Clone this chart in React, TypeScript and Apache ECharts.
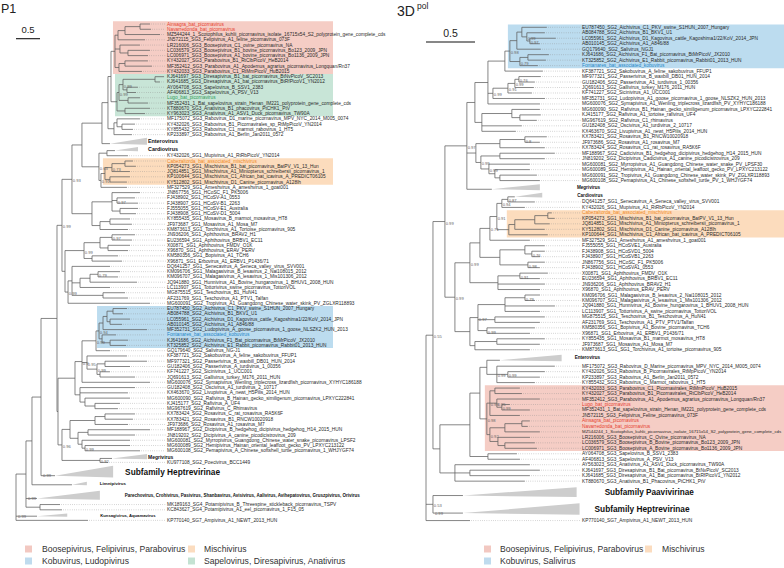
import React, { useEffect, useRef } from "react";
import * as echarts from "echarts";

/* ====================== DATA ====================== */
// P1 tree (Newick, branch lengths in substitutions/site, node labels = support)
const P1_PINK =
  "((((Ainsagra_bat_picornavirus:0.208,Navarredonda_bat_picornavirus:0.229):0.313,MZ544244_1_Scotophilus_kuhlii_picornavirus_isolate_16715x54_S2_polyprotein_gene_complete_cds:0.729):0.146,JN572115_SG3_Felipivirus_A1_feline_picornavirus_073F:0.563):0.063,(LR216006_SG3_Boosepivirus_C1_ovine_picornavirus_NA:0.417,(LC036579_SG3_Boosepivirus_B1_bovine_picornavirus_Bo123_2009_JPN:0.458,LC006971_SG3_Boosepivirus_A1_bovine_picornavirus_Bo1136_2009_JPN:0.417):0.167):0.104,((KY432027_SG3_Parabovirus_B1_RtClbPicoV_HeB2014:0.479,MF352412_SG3_Parabovirus_A1_Apodemus_agrarius_picornavirus_Longquan/Rn37:0.563):0.125,KY432033_SG3_Parabovirus_C1_RtMmPicoV_HuB2015:0.479):0.083):0.083";
const P1_GREEN =
  "((((KJ641697_SG3_Diresapivirus_B1_bat_picornavirus_BtNvPicoV_SC2013:0.188,KJ641685_SG3_Diresapivirus_A1_bat_picornavirus_BtRfPicoV1_YN2012:0.104):0.667,(AY064708_SG3_Sapelovirus_B_SSV1_2383:0.229,AF406813_SG3_Sapelovirus_A_PSV_V13:0.188):0.083)0.99:0.083,(Lugo_bat_picornavirus:0.25,MF352431_1_Bat_sapelovirus_strain_Henan_IM221_polyprotein_gene_complete_cds:0.417):0.188)0.99:0.042,(KT880670_SG3_Anativirus_B1_phacovirus_PtCHK1_PtV:0.521,KY963023_SG3_Anativirus_A1_ASV1_Duck_picornavirus_TW90A:0.417):0.167):0.125";
const P1_RABO =
  "((MF175072_SG3_Rabovirus_D1_marine_picornavirus_MPV_NYC_2014_M005_0074:0.479,(KY432026_SG3_Rabovirus_B1_Picornavirales_sp_RtMpPicoV_YN2014:0.271,KY855432_SG3_Rabovirus_C1_marmot_rabovirus_1_HT5:0.229):0.104):0.063,KP233897_SG3_Rabovirus_A1_Berlin_Jan2011_0572:0.375):0.125";
const P1_CARDIO = "(#Cardio:0.167,KY432026_SG1_Mupivirus_A1_RtRbPicoV_YN2014:0.438):0.167";
const P1_MISCHI =
  "((((Cabezaltorda_bat_associated_mischivirus:0.167,KP054273_SG1_Mischivirus_B1_bat_picornavirus_BatPV_V1_13_Hun:0.229):0.271,JQ814851_SG1_Mischivirus_A1_Miniopterus_schreibersii_picornavirus_1:0.375)0.73:0.146,(KP100644_SG1_Mischivirus_C1_African_bat_icavirus_A_PREDICT06105:0.417,KY512802_SG1_Mischivirus_D1_Canine_picornavirus_A128lh:0.354):0.104):0.083,MF327529_SG1_Ameshvirus_A_ameshvirus_1_goat001:0.542)0.91:0.042";
const P1_COSA =
  "((JN867756_SG1_HCoSC_F1_PK5006:0.583,(FJ438902_SG1_HCoSV-A1_0553:0.375,FJ438907_SG1_HCoSV-B1_2263:0.438)0.97:0.104,(FJ555055_SG1_HCoSV-E1_Australia:0.375,FJ438908_SG1_HCoSV-D1_5004:0.333):0.167):0.417,((KY855435_SG1_Mosavirus_B_marmot_mosavirus_HT8:0.417,JF973687_SG1_Mosavirus_A1_Mosa_M7:0.458):0.208,KM873613_SG1_Torchivirus_A1_Tortoise_picornavirus_905:0.583):0.167):0.417";
const P1_APHTHO =
  "(((JN936206_SG1_Aphthovirus_BRAV2_H1:0.479,EU236594_SG1_Aphthovirus_BRBV1_EC11:0.417)0.97:0.25,(X00871_SG1_Aphthovirus_FMDV_O1K:0.458,X96870_SG1_Aphthovirus_ERAV_PERV:0.417):0.167):0.333,(KM580356_SG1_Bopivirus_A1_TCH6:0.542,X96871_SG1_Erbovirus_A1_ERBV1_P1436/71:0.625):0.167)0.99:0.396";
const P1_SENECA =
  "((DQ641257_SG1_Senecavirus_A_Seneca_valley_virus_SVV001:0.792,(((KM096706_SG1_Malagasivirus_B_lesavirus_2_Nai108015_2012:0.458,KM096707_SG1_Malagasivirus_A_lesavirus_1_Mis101306_2012:0.417)0.79:0.167,JQ941880_SG1_Hunnivirus_A1_Bovine_hungarovirus_1_BHUV1_2008_HUN:0.979):0.208,LC113907_SG1_Tottorivirus_swine_picornavirus_TottoriVOL:0.625):0.167,(MG875515_SG1_Teschovirus_B1_HuN41:0.458,AF231769_SG1_Teschovirus_A1_PTV1_Talfan:0.521):0.646):0.083,MG600091_SG2_Tropivirus_A1_Guangdong_Chinese_water_skink_PV_ZGLXR118893:1.708)0.99:0.063";
const P1_KOBU =
  "((((EU787450_SG2_Aichivirus_C1_PKV_swine_S1HUN_2007_Hungary:0.292,AB084788_SG2_Aichivirus_B1_BKV1_U1:0.208):0.125,(LC055961_SG2_Aichivirus_D1_Kagovirus_cattle_Kagoshima1/22/KoV_2014_JPN:0.417,AB010145_SG2_Aichivirus_A1_A846/88:0.25):0.063):0.083,MF352731_SG2_Ludopivirus_A_goose_picornavirus_1_goose_NLSZK2_HUN_2013:0.917):0.083,(Fontanares_bat_associated_kobuvirus:0.292,(KJ641686_SG2_Aichivirus_F1_Bat_picornavirus_BtMrPicoV_JX2010:0.375,KT325852_SG2_Aichivirus_E1_Rabbit_picornavirus_Rabbit01_2013_HUN:0.333):0.167):0.063)0.94:0.063";
const P1_PASSERI =
  "(KF387721_SG2_Sakobuvirus_A_feline_sakobuvirus_FFUP1:0.833,((MF977321_SG2_Passerivirus_B_waxbill_DB01_HUN_2014:0.875,GU182406_SG2_Passerivirus_A_turdivirus_1_00356:0.521):0.167,(KF741227_SG2_Sicinivirus_1_UCC001:0.208,JQ691613_SG2_Gallivirus_turkey_M176_2011_HUN:0.729):0.063)0.99:0.208)0.95:0.104";
const P1_RAFI =
  "(GU182408_SG2_Oscivirus_A1_turdivirus_2_10717:1.146,KX463670_SG2_Livupivirus_A_newt_H5Pilis_2014_HUN:1.0,(MG600090_SG2_Rafivirus_B_Hainan_gecko_similigenum_picornavirus_LPXYC222841:0.938,(KJ415177_SG2_Rafivirus_A_UF4:0.521,MG967619_SG2_Rafivirus_C_Rhimavirus:0.479):0.208):0.104):0.104";
const P1_ROSA =
  "((((KX783424_SG2_Rosavirus_C_rat_rosavirus_RA5K6F:0.625,KX783421_SG2_Rosavirus_B1_RNCW10020918:0.583):0.208,JF973686_SG2_Rosavirus_A1_rosavirus_M7:0.688):0.521,((MF188967_SG2_Dicipivirus_B_hedgehog_dicipivirus_hedgehog_H14_2015_HUN:1.292,JN819202_SG2_Dicipivirus_A_canine_picodicistrovirus_209:0.979):0.208,(MG600081_SG2_Myrropivirus_Guangdong_Chinese_water_snake_picornavirus_LPSF2:1.0,(MG600089_SG2_Hemipivirus_Hainan_oriental_leaffoot_gecko_PV_LPXYC213122:0.938,MG600108_SG2_Pemapivirus_A_Chinese_softshell_turtle_picornavirus_1_WHJYGF74:1.146)0.99:0.063):0.083):0.167):0.167,(#Megri:0.25,KU977108_SG2_Poecivirus_BCC1449:0.167)0.92:0.792)0.96:0.083";

const P1_SG3 = `(((${P1_PINK},${P1_GREEN}):0.063,${P1_RABO}):0.125,#Entero:0.167):0.417`;
const P1_PB = `(${P1_SG3},(${P1_CARDIO},${P1_MISCHI})0.63:0.354):0.208`;
const P1_PA = `(${P1_PB},${P1_COSA})0.93:0.208`;
const P1_P = `(${P1_PA},(${P1_APHTHO},${P1_SENECA}):0.063)0.99:0.104`;
const P1_KUP = `(((${P1_KOBU},GQ179640_SG2_Salivirus_NG-J1:0.292)0.99:0.292,${P1_PASSERI},MG600076_SG2_Symapivirus_Wenling_triplecross_lizardfish_picornavirus_XYHYC186188:1.417)0.9:0.146,${P1_RAFI}):0.354`;
const P1_K = `(${P1_KUP},${P1_ROSA}):0.021`;
const P1_TREE = `(((((${P1_P},${P1_K}):0.333,#Heptre:0.292):0.188,#Limni:0.833):0.125,#Parecho:0.229,(MK189163_SG4_Potamipivirus_B_Threespine_stickleback_picornavirus_TSPV:0.417,KC843627_SG4_Potamipivirus_A1_eel_picornavirus_1_F15_05:0.458):0.292):0.208,#Kunsagi:0.438,KP770140_SG7_Ampivirus_A1_NEWT_2013_HUN:1.5);`;

// 3Dpol tree
const POL_KOBU =
  "(((EU787450_SG2_Aichivirus_C1_PKV_swine_S1HUN_2007_Hungary:0.255,(AB084788_SG2_Aichivirus_B1_BKV1_U1:0.184,(LC055961_SG2_Aichivirus_D1_Kagovirus_cattle_Kagoshima1/22/KoV_2014_JPN:0.265,AB010145_SG2_Aichivirus_A1_A846/88:0.102)0.97:0.031)0.99:0.051):0.051,GQ179640_SG2_Salivirus_NGJ1:0.245):0.071,((KJ641686_SG2_Aichivirus_F1_Bat_picornavirus_BtMrPicoV_JX2010:0.214,KT325852_SG2_Aichivirus_E1_Rabbit_picornavirus_Rabbit01_2013_HUN:0.184):0.082,Fontanares_bat_associated_kobuvirus:0.184)0.79:0.102)0.98:0.051";
const POL_PASSERI =
  "((((MF977321_SG2_Passerivirus_B_waxbill_DB01_HUN_2014:0.224,GU182406_SG2_Passerivirus_A1_turdivirus_1_00356:0.163)0.76:0.041,JQ691613_SG2_Gallivirus_turkey_M176_2011_HUN:0.194)0.99:0.071,KF741227_SG2_Sicinivirus_A1_UCC001:0.245)0.91:0.153,MF352731_SG2_Ludopivirus_A1_goose_picornavirus_1_goose_NLSZK2_HUN_2013:0.531)0.99:0.051";
const POL_RAFI =
  "((MG600090_SG2_Rafivirus_B1_Hainan_gecko_similigenum_picornavirus_LPXYC222841:0.286,(KJ415177_SG2_Rafivirus_A1_tortoise_rafivirus_UF4:0.214,MG967619_SG2_Rafivirus_C1_rhimavirus:0.173):0.082):0.306,GU182408_SG2_Oscivirus_A1_turdivirus_2_10717:0.408,KX463670_SG2_Livupivirus_A1_newt_H5Pilis_2014_HUN:0.347):0.071";
const POL_ROSA =
  "(((KX783421_SG2_Rosavirus_B1_RNCW10020918:0.224,JF973686_SG2_Rosavirus_A1_rosavirus_M7:0.153)0.8:0.255,KX783424_SG2_Rosavirus_C1_rat_rosavirus_RA5K6F:0.459):0.245,((MF188967_SG2_Cadicivirus_B1_hedgehog_dicipivirus_hedgehog_H14_2015_HUN:0.561,JN819202_SG2_Dicipivirus_Cadicivirus_A1_canine_picodicistrovirus_209:0.459):0.194,(MG600081_SG2_Myrropivirus_A1_Guangdong_Chinese_water_snake_PV_LPSF30:0.418,(MG600089_SG2_Hemipivirus_A1_Hainan_oriental_leaffoot_gecko_PV_LPXYC213122:0.357,(MG600091_SG2_Tropivirus_A1_Guangdong_Chinese_water_skink_PV_ZGLXR118893:0.378,MG600108_SG2_Pemapivirus_A1_Chinese_softshell_turtle_PV_1_WHJYGF74:0.408):0.051):0.061)0.99:0.082)0.99:0.051):0.092";
const POL_CARDIO =
  "((((#Cardio:0.071,DQ641257_SG1_Senecavirus_A_Seneca_valley_virus_SVV001:0.276)0.87:0.061,KY432026_SG1_Mupivirus_A1_RtRbPicoV_YN2014:0.235)0.94:0.051,((((Cabezaltorda_bat_associated_mischivirus:0.041,KP054273_SG1_Mischivirus_B1_bat_picornavirus_BatPV_V1_13_Hun:0.071):0.133,JQ814851_SG1_Mischivirus_A1_Miniopterus_schreibersii_picornavirus_1:0.153):0.204,KY512802_SG1_Mischivirus_D1_Canine_picornavirus_A128lh:0.306):0.061,KP100644_SG1_Mischivirus_C1_African_bat_icavirus_A_PREDICT06105:0.398):0.122)0.91:0.071,MF327529_SG1_Ameshvirus_A1_ameshvirus_1_goat001:0.408)0.71:0.102";
const POL_COSA =
  "((FJ555055_SG1_HCoSVE1_Australia:0.204,(FJ438908_SG1_HCoSVD1_5004:0.133,FJ438907_SG1_HCoSVB1_2263:0.082)0.76:0.071):0.255,(JN867756_SG1_HCoSC_F1_PK5006:0.173,FJ438902_SG1_HCoSVA1_0553:0.122)0.98:0.286):0.204";
const POL_APHTHO =
  "((X00871_SG1_Aphthovirus_FMDV_O1K:0.286,EU236594_SG1_Aphthovirus_BRBV1_EC11:0.204)0.91:0.224,JN936206_SG1_Aphthovirus_BRAV2_H1:0.48,X96870_SG1_Aphthovirus_ERAV_PERV:0.429):0.286";
const POL_TESCHO =
  "((((KM096706_SG1_Malagasivirus_B_lesavirus_2_Nai108015_2012:0.153,KM096707_SG1_Malagasivirus_A_lesavirus_1_Mis101306_2012:0.102)0.79:0.204,JQ941880_SG1_Hunnivirus_A1_Bovine_hungarovirus_1_BHUV1_2008_HUN:0.51,LC113907_SG1_Tottorivirus_A_swine_picornavirus_TottoriVOL:0.357):0.276,(MG875515_SG1_Teschovirus_B1_Teschovirus_A_HuN41:0.51,AF231769_SG1_Teschovirus_A1_PTV_PTV1/Talfan:0.459):0.173,(KM580356_SG1_Bopivirus_A1_Bovine_picornavirus_TCH6:0.49,X96871_SG1_Erbovirus_A1_ERBV1_P1436/71:0.439)0.99:0.092)0.97:0.082,((KY855435_SG1_Mosavirus_B1_marmot_mosavirus_HT8:0.49,JF973687_SG1_Mosavirus_A1_Mosa_M7:0.439):0.224,KM873613_SG1_SG1_Torchivirus_A1_tortoise_picornavirus_905:0.561):0.051):0.153";
const POL_PINK =
  "(((KY432033_SG3_Parabovirus_C1_Picornavirales_RtMmPicoV_HuB2015:0.255,KY432027_SG3_Parabovirus_B1_Picornavirales_RtClbPicoV_HeB2014:0.276):0.051,(MF352412_SG3_Parabovirus_A1_Apodemus_agrarius_picornavirus_Longquan/Rn37:0.439,(Lugo_bat_picornavirus:0.082,MF352431_1_Bat_sapelovirus_strain_Henan_IM221_polyprotein_gene_complete_cds:0.286)0.99:0.051)0.95:0.071,JN572115_SG3_Felipivirus_Feline_picornavirus_073F:0.306)0.99:0.031,(((Ainsagra_bat_picornavirus:0.082,Navarredonda_bat_picornavirus:0.061):0.173,MZ544244_1_Scotophilus_kuhlii_picornavirus_isolate_16715x54_S2_polyprotein_gene_complete_cds:0.357):0.153,(LR216006_SG3_Boosepivirus_C_Ovine_picornavirus_NA:0.327,(LC036579_SG3_Boosepivirus_B_Bovine_picornavirus_Bo123_2009_JPN:0.306,LC006971_SG3_Boosepivirus_A_Bovine_picornavirus_Bo1136_2009_JPN:0.327):0.071):0.082)0.92:0.031)0.98:0.071";
const POL_RABO =
  "(MF175072_SG3_Rabovirus_D_Marine_picornavirus_MPV_NYC_2014_M005_0074:0.592,(KY432026_SG3_Rabovirus_B_Picornavirales_RtMpPicoV_YN2014:0.378,KP233897_SG3_Rabovirus_A1_Berlin_Jan2011_0572:0.327)0.99:0.112,KY855432_SG3_Rabovirus_C_Marmot_rabovirus_1_HT5:0.388)0.99:0.102";
const POL_SAPELO = "(AY064708_SG3_Sapelovirus_B_SSV1_2383:0.296,AF406813_SG3_Sapelovirus_A_PSV_V13:0.327):0.184";
const POL_ANATI =
  "(AY563023_SG3_Anativirus_A1_ASV1_Duck_picornavirus_TW90A:0.765,(KJ641697_SG3_Diresapivirus_B1_Bat_picornavirus_BtNvPicoV_SC2013:0.714,KJ641685_SG3_Diresapivirus_A1_Bat_picornavirus_BtRfPicoV1_YN2012:0.612):0.153,KT880670_SG3_Anativirus_B1_Phacovirus_PtCHK1_PtV:0.714):0.153";

const POL_S2 = `((((${POL_KOBU},KF387721_SG2_Sakobuvirus_A_feline_sakobuvirus_FFUP1:0.388):0.173,${POL_PASSERI},MG600076_SG2_Symapivirus_A1_Wenling_triplecross_lizardfish_PV_XYHYC186188:0.531):0.133,${POL_RAFI}):0.082,${POL_ROSA},#Megri:0.255)0.97:0.224`;
const POL_S1 = `(((${POL_CARDIO},${POL_COSA}):0.102,${POL_APHTHO})0.99:0.153,${POL_TESCHO})0.99:0.102`;
const POL_S3 = `((((#Entero:0.133,${POL_RABO}):0.071,${POL_PINK}):0.102,${POL_SAPELO}):0.306,${POL_ANATI}):0.071`;
const POL_TREE = `(((${POL_S2},${POL_S1})0.99:0.122,${POL_S3})0.55:0.071,(#Paavi:0.306,#Heptre:0.306)0.53:0.071,KP770140_SG7_Ampivirus_A1_NEWT_2013_HUN:0.449);`;

type Collapsed = { key: string; label: string; length: number; rows: number; span: number; support?: string };

const P1_COLLAPSED: Collapsed[] = [
  { key: "Entero", label: "Enterovirus", length: 0.77, rows: 1.5, span: 1.3 },
  { key: "Cardio", label: "Cardiovirus", length: 0.48, rows: 1.5, span: 0.8 },
  { key: "Megri", label: "Megrivirus", length: 0.73, rows: 1.2, span: 1.0 },
  { key: "Heptre", label: "Subfamily Heptrevirinae", length: 1.21, rows: 2.5, span: 2.2, support: "0.99" },
  { key: "Limni", label: "Limnipivirus", length: 0.31, rows: 2, span: 0.7 },
  {
    key: "Parecho",
    label: "Parechovirus, Crohivirus, Pasivirus, Shanbavirus, Avisivirus, Aalivirus, Avihepatovirus, Gruszpivirus, Orivirus",
    length: 1.31, rows: 2.5, span: 1.7, support: "0.99",
  },
  { key: "Kunsagi", label: "Kunsagivirus, Aquamavirus", length: 0.63, rows: 1, span: 0.6, support: "0.99" },
];
const POL_COLLAPSED: Collapsed[] = [
  { key: "Megri", label: "Megrivirus", length: 0.49, rows: 1.4, span: 1.1 },
  { key: "Cardio", label: "Cardiovirus", length: 0.28, rows: 1.5, span: 0.9 },
  { key: "Entero", label: "Enterovirus", length: 0.63, rows: 2, span: 1.2 },
  { key: "Paavi", label: "Subfamily Paavivirinae", length: 1.16, rows: 3, span: 1.8 },
  { key: "Heptre", label: "Subfamily Heptrevirinae", length: 1.19, rows: 3.2, span: 2.1, support: "0.99" },
];

type Box = { from: string; to: string; color: string };
const P1_BOXES: Box[] = [
  { from: "Ainsagra", to: "KY432033", color: "pink" },
  { from: "KJ641697", to: "KY963023", color: "green" },
  { from: "Cabezaltorda", to: "KY512802", color: "orange" },
  { from: "EU787450", to: "KT325852", color: "blue" },
];
const POL_BOXES: Box[] = [
  { from: "EU787450", to: "Fontanares", color: "blue" },
  { from: "Cabezaltorda", to: "KP100644", color: "orange" },
  { from: "KY432033", to: "LC006971", color: "pink" },
];
const P1_NOVEL: [string, string][] = [
  ["Ainsagra", "red"], ["Navarredonda", "red"], ["Lugo", "green"], ["Cabezaltorda", "orange"], ["Fontanares", "blue"],
];
const POL_NOVEL: [string, string][] = [
  ["Ainsagra", "red"], ["Navarredonda", "red"], ["Lugo", "red"], ["Cabezaltorda", "orange"], ["Fontanares", "blue"],
];
const P1_LEGEND: [string, string][] = [
  ["Boosepivirus, Felipivirus, Parabovirus", "pink"], ["Mischivirus", "orange"],
  ["Kobuvirus, Ludopivirus", "blue"], ["Sapelovirus, Diresapivirus, Anativirus", "green"],
];
const POL_LEGEND: [string, string][] = [
  ["Boosepivirus, Felipivirus, Parabovirus", "pink"], ["Mischivirus", "orange"], ["Kobuvirus, Salivirus", "blue"],
];
const SCALE_BAR = 0.5;

/* ====================== STYLE ====================== */
const FONT = "Arial, 'Liberation Sans', Helvetica, sans-serif";
const BOX_FILL: Record<string, string> = { pink: "#f5cdc5", green: "#c8e5d7", orange: "#fcdcbd", blue: "#bcdcef" };
const LEGEND_FILL: Record<string, string> = { pink: "#f2c8c1", green: "#c4e2d2", orange: "#fbdcbf", blue: "#bfdbee" };
const NOVEL_TEXT: Record<string, string> = { red: "#e6402e", green: "#2f9c59", orange: "#f08b25", blue: "#1e86c8" };
const LINE = "#5e5e5e";
const DOTS = "#8c8c8c";
const TRI = "#cdcdcd";
const SUPPORT = "#666666";
const LEAF_FONT = 4.8;
const SUPPORT_FONT = 4.1;

type CladeStyle = Record<string, { size: number; dx: number }>;
const P1_CLADE_STYLE: CladeStyle = {
  Entero: { size: 5.4, dx: 1 }, Cardio: { size: 5.4, dx: 10 }, Megri: { size: 5, dx: 1 },
  Heptre: { size: 8.3, dx: 12 }, Limni: { size: 4.4, dx: 13 }, Parecho: { size: 4.5, dx: 25 }, Kunsagi: { size: 4.2, dx: 33 },
};
const POL_CLADE_STYLE: CladeStyle = {
  Megri: { size: 4.6, dx: 37 }, Cardio: { size: 4.6, dx: 35 }, Entero: { size: 4.6, dx: 13 },
  Paavi: { size: 8.2, dx: 28 }, Heptre: { size: 8.3, dx: 15 },
};

/* ====================== TREE LOGIC ====================== */
type TNode = {
  name: string; len: number; children: TNode[]; support: string; parent: TNode | null;
  x: number; y: number; yc: number; y0: number; y1: number; clade?: Collapsed;
};

function parseNewick(src: string): TNode {
  const s = src.replace(/\s+/g, "");
  let i = 0;
  const node = (): TNode => {
    const n: TNode = { name: "", len: 0, children: [], support: "", parent: null, x: 0, y: 0, yc: 0, y0: 0, y1: 0 };
    if (s[i] === "(") {
      i++;
      for (;;) {
        const c = node();
        c.parent = n;
        n.children.push(c);
        if (s[i] === ",") { i++; continue; }
        i++;
        break;
      }
    }
    let label = "";
    while (i < s.length && ",():;".indexOf(s[i]) < 0) label += s[i++];
    if (s[i] === ":") {
      i++;
      let num = "";
      while (i < s.length && ",();".indexOf(s[i]) < 0) num += s[i++];
      n.len = parseFloat(num);
    }
    if (n.children.length) n.support = label;
    else n.name = label;
    return n;
  };
  return node();
}

let measureCtx: CanvasRenderingContext2D | null = null;
function textWidth(t: string, size: number, weight = "normal") {
  if (!measureCtx) measureCtx = document.createElement("canvas").getContext("2d");
  if (!measureCtx) return t.length * size * 0.5;
  measureCtx.font = `${weight} ${size}px ${FONT}`;
  return measureCtx.measureText(t).width;
}

type TreeCfg = {
  newick: string; collapsed: Collapsed[]; boxes: Box[]; novel: [string, string][]; cladeStyle: CladeStyle;
  grid: { left: number; top: number; width: number; height: number };
  unitPx: number; boxRight: number; textRight: number; scaleY: number; scaleFont: number;
};

const seg = (x1: number, y1: number, x2: number, y2: number, stroke: string, w: number, dash?: number[]) => ({
  type: "line", silent: true, shape: { x1, y1, x2, y2 },
  style: dash ? { stroke, lineWidth: w, lineDash: dash } : { stroke, lineWidth: w },
});
const txt = (text: string, x: number, y: number, size: number, fill: string, weight = "normal", align = "left") => ({
  type: "text", silent: true,
  style: { text, x, y, fill, fontSize: size, fontFamily: FONT, fontWeight: weight, align, verticalAlign: "middle" },
});

function buildTree(cfg: TreeCfg, idx: number) {
  const root = parseNewick(cfg.newick);
  const defs = new Map(cfg.collapsed.map((d) => [d.key, d]));
  const nodes: TNode[] = [];
  let cursor = 0;
  const walk = (n: TNode, px: number) => {
    n.x = px + n.len;
    nodes.push(n);
    if (n.children.length) {
      n.children.forEach((c) => walk(c, n.x));
      n.y0 = n.children[0].y;
      n.y1 = n.children[n.children.length - 1].y;
      n.y = (n.y0 + n.y1) / 2;
      n.yc = n.y;
    } else {
      const d = n.name.charAt(0) === "#" ? defs.get(n.name.slice(1)) : undefined;
      const h = d ? d.rows : 1;
      n.yc = cursor + h / 2 - 0.5;
      n.y = d ? n.yc + 0.35 * d.span : n.yc;
      n.clade = d;
      cursor += h;
    }
  };
  walk(root, 0);
  const lastRow = cursor - 0.5;
  const xMax = cfg.grid.width / cfg.unitPx;
  const leaves = nodes.filter((n) => !n.children.length);
  const find = (p: string) => leaves.find((l) => l.name.indexOf(p) === 0) as TNode;
  const mrca = (a: TNode, b: TNode) => {
    const set = new Set<TNode>();
    for (let n: TNode | null = a; n; n = n.parent) set.add(n);
    for (let n: TNode | null = b; n; n = n.parent) if (set.has(n)) return n;
    return root;
  };
  const novelColor = (name: string) => {
    const hit = cfg.novel.find(([p]) => name.indexOf(p) === 0);
    return hit ? NOVEL_TEXT[hit[1]] : "#2a2a2a";
  };
  const boxes = cfg.boxes.map((b) => {
    const a = find(b.from);
    const z = find(b.to);
    const m = mrca(a, z);
    return { x: m.x, top: a.yc - 0.5, bottom: z.yc + 0.5, fill: BOX_FILL[b.color] };
  });

  const treeRender = (params: any, api: any) => {
    const n = nodes[params.dataIndex];
    const els: any[] = [];
    const p = api.coord([n.x, n.y]);
    if (n.parent) {
      const q = api.coord([n.parent.x, n.y]);
      els.push(seg(q[0], p[1], p[0], p[1], LINE, 0.75));
    }
    if (n.children.length) {
      const a = api.coord([n.x, n.y0]);
      const b = api.coord([n.x, n.y1]);
      els.push(seg(p[0], a[1], p[0], b[1], LINE, 0.75));
      if (n.support) els.push(txt(n.support, p[0] + 0.8, p[1] + 1.5, SUPPORT_FONT, SUPPORT));
    } else if (n.clade) {
      const d = n.clade;
      const rowPx = Math.abs(api.size([0, 1])[1]);
      const H = d.span * rowPx;
      const c = api.coord([n.x + d.length, n.yc]);
      els.push({
        type: "polygon", silent: true,
        shape: { points: [[p[0], p[1]], [c[0], c[1] - H / 2], [c[0], c[1] + H / 2]] },
        style: { fill: TRI },
      });
      const st = cfg.cladeStyle[d.key];
      els.push(txt(d.label, c[0] + st.dx, c[1], st.size, "#111", "bold"));
      if (d.support && n.parent) {
        const q = api.coord([n.parent.x, n.y]);
        els.push(txt(d.support, q[0] + 2, p[1], SUPPORT_FONT, SUPPORT));
      }
    } else {
      const lx = api.coord([xMax, 0])[0];
      if (lx - p[0] > 4) els.push(seg(p[0] + 1.2, p[1], lx - 1.5, p[1], DOTS, 0.6, [0.6, 1.6]));
      let size = LEAF_FONT;
      const w = textWidth(n.name, size);
      if (lx + w > cfg.textRight) size = (size * (cfg.textRight - lx)) / w;
      els.push(txt(n.name, lx, p[1], size, novelColor(n.name)));
    }
    return { type: "group", children: els };
  };

  const boxRender = (params: any, api: any) => {
    const b = boxes[params.dataIndex];
    const a = api.coord([b.x, b.top]);
    const e = api.coord([b.x, b.bottom]);
    const x0 = a[0] - 2;
    return { type: "rect", silent: true, shape: { x: x0, y: a[1], width: cfg.boxRight - x0, height: e[1] - a[1] }, style: { fill: b.fill } };
  };

  const scaleRender = (_params: any, api: any) => {
    const a = api.coord([0, 0]);
    const b = api.coord([SCALE_BAR, 0]);
    return {
      type: "group",
      children: [
        seg(a[0], cfg.scaleY, b[0], cfg.scaleY, "#111", 1.1),
        txt(String(SCALE_BAR), (a[0] + b[0]) / 2, cfg.scaleY - 9, cfg.scaleFont, "#222", "normal", "center"),
      ],
    };
  };

  return {
    grid: { ...cfg.grid, containLabel: false },
    xAxis: { gridIndex: idx, type: "value", min: 0, max: xMax, show: false },
    yAxis: { gridIndex: idx, type: "value", inverse: true, min: 0, max: lastRow, show: false },
    series: [
      { type: "custom", xAxisIndex: idx, yAxisIndex: idx, data: boxes.map((b) => [b.x, b.top]), renderItem: boxRender, silent: true, z: 1, clip: false },
      { type: "custom", xAxisIndex: idx, yAxisIndex: idx, data: nodes.map((n) => [n.x, n.y]), renderItem: treeRender, silent: true, z: 3, clip: false },
      { type: "custom", xAxisIndex: idx, yAxisIndex: idx, data: [[0, 0]], renderItem: scaleRender, silent: true, z: 3, clip: false },
    ],
  };
}

function legendGraphics(items: [string, string][], sqX: number[], txX: number[], rowsY: number[]) {
  const out: any[] = [];
  items.forEach(([label, col], i) => {
    const c = i % 2;
    const r = Math.floor(i / 2);
    out.push({ type: "rect", silent: true, shape: { x: sqX[c], y: rowsY[r] - 3.5, width: 7, height: 7 }, style: { fill: LEGEND_FILL[col] } });
    out.push({
      type: "text", silent: true,
      style: { text: label, x: txX[c], y: rowsY[r], fill: "#333", fontSize: 8.6, fontFamily: FONT, align: "left", verticalAlign: "middle" },
    });
  });
  return out;
}

function buildOption() {
  const left = buildTree(
    {
      newick: P1_TREE, collapsed: P1_COLLAPSED, boxes: P1_BOXES, novel: P1_NOVEL, cladeStyle: P1_CLADE_STYLE,
      grid: { left: 16, top: 24, width: 151, height: 499 }, unitPx: 48, boxRight: 333, textRight: 392, scaleY: 38.7, scaleFont: 9.5,
    },
    0
  );
  const right = buildTree(
    {
      newick: POL_TREE, collapsed: POL_COLLAPSED, boxes: POL_BOXES, novel: POL_NOVEL, cladeStyle: POL_CLADE_STYLE,
      grid: { left: 426, top: 27.3, width: 156, height: 496 }, unitPx: 98, boxRight: 784, textRight: 782, scaleY: 42, scaleFont: 10.5,
    },
    1
  );
  const graphic: any[] = [
    { type: "text", silent: true, style: { text: "P1", x: 1, y: 2, fontSize: 12.5, fontFamily: FONT, fill: "#222", align: "left", verticalAlign: "top" } },
    { type: "text", silent: true, style: { text: "3D", x: 397, y: 4, fontSize: 14, fontFamily: FONT, fill: "#222", align: "left", verticalAlign: "top" } },
    { type: "text", silent: true, style: { text: "pol", x: 417, y: 1, fontSize: 8.5, fontFamily: FONT, fill: "#222", align: "left", verticalAlign: "top" } },
    ...legendGraphics(P1_LEGEND, [25, 188], [42, 204], [549, 561]),
    ...legendGraphics(POL_LEGEND, [484, 645], [500, 662], [549, 561]),
  ];
  return {
    animation: false,
    backgroundColor: "#ffffff",
    grid: [left.grid, right.grid],
    xAxis: [left.xAxis, right.xAxis],
    yAxis: [left.yAxis, right.yAxis],
    series: [...left.series, ...right.series],
    graphic,
  };
}

export default function App() {
  const ref = useRef<HTMLDivElement>(null);
  useEffect(() => {
    if (!ref.current) return;
    const chart = echarts.init(ref.current, undefined, { renderer: "svg", width: 784, height: 568 });
    chart.setOption(buildOption() as any);
    return () => chart.dispose();
  }, []);
  return <div ref={ref} style={{ position: "fixed", left: 0, top: 0, width: 784, height: 568, background: "#fff" }} />;
}
